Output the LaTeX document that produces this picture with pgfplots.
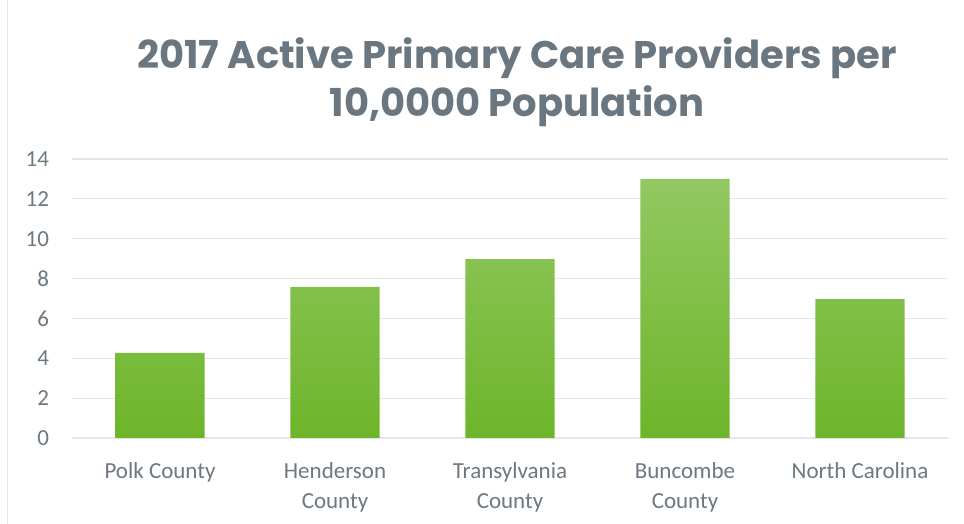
\documentclass[border=0pt]{standalone}
\usepackage{pgfplots}
\pgfplotsset{compat=1.18}
\usepackage{fontspec}
\setmainfont{Carlito}
\newfontfamily\titlefont{Poppins}
\definecolor{titlegray}{HTML}{6B7780}
\definecolor{tickgray}{HTML}{6D7880}
\definecolor{gridgray}{HTML}{E4E6E8}
\definecolor{gtop}{HTML}{92C862}
\definecolor{gmid}{HTML}{80C63E}
\definecolor{gbot}{HTML}{6DB52A}
\begin{document}
\begin{tikzpicture}[x=1pt,y=1pt]
\path[use as bounding box, fill=white] (0,0) rectangle (964,524);
\draw[gridgray, line width=1pt] (7.5,0) -- (7.5,524);
\begin{axis}[
  at={(72.5pt,86pt)}, anchor=south west,
  scale only axis, width=875pt, height=279pt,
  xmin=-0.5, xmax=4.5, ymin=0, ymax=14,
  ytick={0,2,...,14},
  xtick={0,1,2,3,4},
  xticklabels={Polk County, Henderson\\County, Transylvania\\County, Buncombe\\County, North Carolina},
  x tick label style={align=center, font=\fontsize{23}{30}\selectfont, text=tickgray, yshift=-21pt},
  y tick label style={font=\fontsize{23}{28}\selectfont, text=tickgray, xshift=-20pt},
  /pgf/number format/assume math mode=true,
  axis line style={draw=none},
  major tick length=0pt,
  ymajorgrids, grid style={gridgray, line width=1.2pt},
]
\addplot[ybar, bar width=0.51, draw=none, top color=gtop, middle color=gmid, bottom color=gbot]
  coordinates {(0,4.27) (1,7.58) (2,8.98) (3,13.0) (4,6.97)};
\end{axis}
\node[font=\titlefont\bfseries\fontsize{38.5}{48}\selectfont, text=titlegray, align=center] at (517,442)
  {2017 Active Primary Care Providers per\\10,0000 Population};
\end{tikzpicture}
\end{document}
